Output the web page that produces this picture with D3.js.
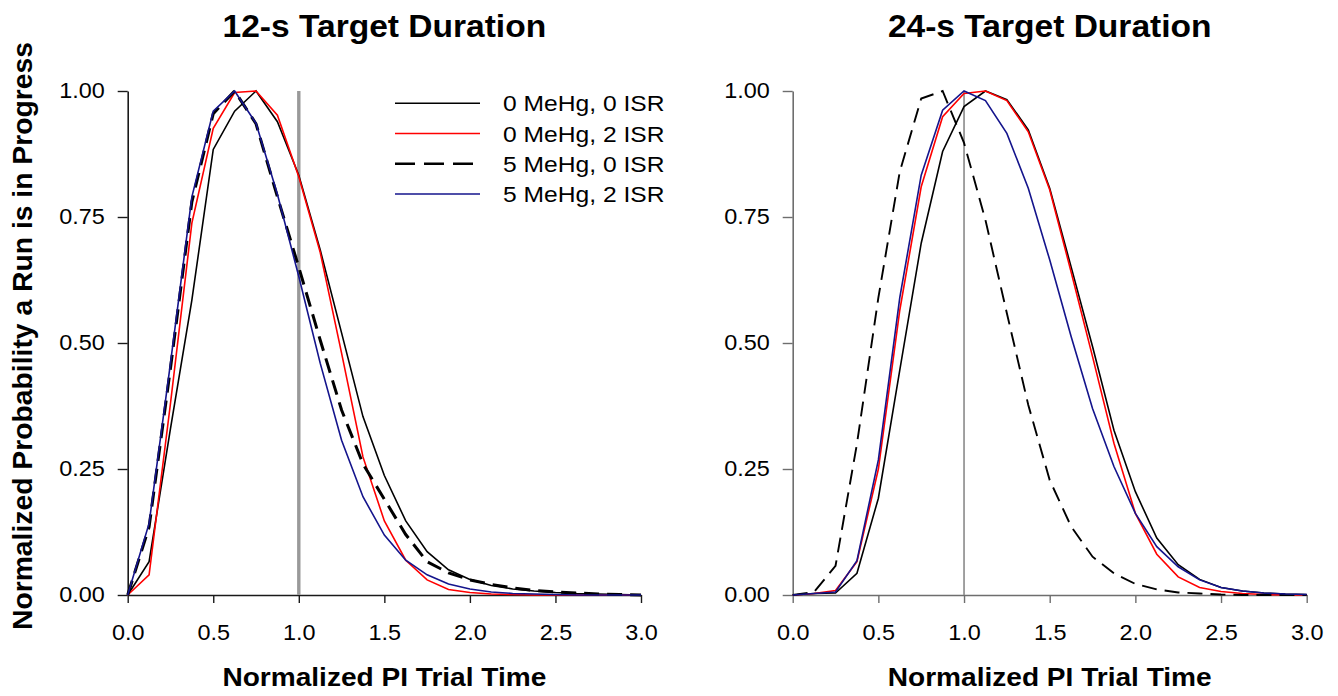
<!DOCTYPE html>
<html>
<head>
<meta charset="utf-8">
<script src="https://cdn.jsdelivr.net/npm/d3@7"></script>
<style>
  html, body { margin: 0; padding: 0; background: #fff; }
  svg { display: block; }
  text { font-family: "Liberation Sans", Arial, sans-serif; fill: #000; }
</style>
</head>
<body>
<svg id="chart" width="1338" height="696"></svg>
<script>
// Normalized PI trial time (bin centres)
const trialTime = [0, 0.125, 0.25, 0.375, 0.5, 0.625, 0.75, 0.875, 1.0, 1.125, 1.25, 1.375,
  1.5, 1.625, 1.75, 1.875, 2.0, 2.125, 2.25, 2.375, 2.5, 2.625, 2.75, 2.875, 3.0];

// Groups
const groupNames = ["0 MeHg, 0 ISR", "0 MeHg, 2 ISR", "5 MeHg, 0 ISR", "5 MeHg, 2 ISR"];

// 12-s target duration
const t12_mehg0_isr0 = [0, 0.066, 0.33, 0.585, 0.884, 0.96, 1.0, 0.939, 0.833, 0.685, 0.52, 0.354,
  0.237, 0.147, 0.086, 0.05, 0.031, 0.019, 0.012, 0.008, 0.005, 0.003, 0.002, 0.001, 0];
const t12_mehg0_isr2 = [0, 0.04, 0.38, 0.738, 0.926, 0.997, 1.0, 0.952, 0.83, 0.68, 0.48, 0.274,
  0.147, 0.069, 0.03, 0.011, 0.005, 0.002, 0.001, 0, 0, 0, 0, 0, 0];
const t12_mehg5_isr0 = [0, 0.135, 0.45, 0.78, 0.955, 1.0, 0.935, 0.79, 0.65, 0.506, 0.367, 0.26,
  0.19, 0.12, 0.066, 0.044, 0.03, 0.021, 0.014, 0.009, 0.006, 0.004, 0.002, 0.001, 0];
const t12_mehg5_isr2 = [0, 0.142, 0.46, 0.79, 0.96, 1.0, 0.936, 0.795, 0.632, 0.46, 0.307, 0.195,
  0.119, 0.069, 0.04, 0.022, 0.012, 0.006, 0.003, 0.002, 0.001, 0, 0, 0, 0];

// 24-s target duration
const t24_mehg0_isr0 = [0, 0.003, 0.004, 0.043, 0.192, 0.446, 0.698, 0.88, 0.969, 1.0, 0.983, 0.923,
  0.807, 0.651, 0.493, 0.327, 0.205, 0.113, 0.06, 0.031, 0.015, 0.008, 0.004, 0.002, 0.001];
const t24_mehg0_isr2 = [0, 0.003, 0.009, 0.066, 0.25, 0.565, 0.81, 0.949, 0.995, 1.0, 0.981, 0.919,
  0.804, 0.641, 0.473, 0.301, 0.162, 0.081, 0.036, 0.015, 0.007, 0.003, 0.001, 0, 0];
const t24_mehg5_isr0 = [0, 0.006, 0.058, 0.30, 0.59, 0.84, 0.985, 1.0, 0.897, 0.744, 0.559, 0.377,
  0.228, 0.136, 0.076, 0.043, 0.022, 0.011, 0.005, 0.003, 0.001, 0, 0, 0, 0];
const t24_mehg5_isr2 = [0, 0.003, 0.006, 0.068, 0.268, 0.59, 0.833, 0.962, 1.0, 0.981, 0.916, 0.807,
  0.665, 0.513, 0.37, 0.255, 0.162, 0.096, 0.056, 0.03, 0.015, 0.008, 0.004, 0.002, 0.001];

// Axis ticks
const xTicks = [0, 0.5, 1.0, 1.5, 2.0, 2.5, 3.0];
const yTicks = [0, 0.25, 0.5, 0.75, 1.0];

const panelTitles = ["12-s Target Duration", "24-s Target Duration"];
const xAxisTitle = "Normalized PI Trial Time";
const yAxisTitle = "Normalized Probability a Run is in Progress";

// ---- drawing ----
const svg = d3.select("#chart");
const STRETCH = 1.09; // horizontal widening of glyphs

const colors = ["#000000", "#ff0000", "#000000", "#14148c"];
const dashed = [false, false, true, false];
// paint order: black, red, dashed, blue
const order = [0, 1, 2, 3];

const panels = [
  { title: panelTitles[0], x0: 127.7, x1: 641,
    series: [t12_mehg0_isr0, t12_mehg0_isr2, t12_mehg5_isr0, t12_mehg5_isr2],
    axisColor: "#1a1a1a", refColor: "#999999", refWidth: 3.4, dashWidth: 3.0, dashArray: "15,8",
    legend: true },
  { title: panelTitles[1], x0: 792.7, x1: 1306.7,
    series: [t24_mehg0_isr0, t24_mehg0_isr2, t24_mehg5_isr0, t24_mehg5_isr2],
    axisColor: "#6e6e6e", refColor: "#8a8a8a", refWidth: 1.6, dashWidth: 1.9, dashArray: "15,8",
    legend: false }
];

const yTop = 91, yBottom = 595;
const y = d3.scaleLinear().domain([0, 1]).range([yBottom, yTop]);

function stretchedText(sel) {
  sel.attr("transform", `scale(${STRETCH},1)`);
}

panels.forEach(p => {
  const x = d3.scaleLinear().domain([0, 3]).range([p.x0, p.x1]);
  const g = svg.append("g");

  // title
  g.append("text")
    .attr("transform", `translate(${(p.x0 + p.x1) / 2},37) scale(1.1,1)`)
    .attr("text-anchor", "middle")
    .style("font-size", "30.5px").style("font-weight", "bold")
    .text(p.title);

  // x axis title
  g.append("text")
    .attr("transform", `translate(${(p.x0 + p.x1) / 2},686) scale(1.08,1)`)
    .attr("text-anchor", "middle")
    .style("font-size", "26px").style("font-weight", "bold")
    .text(xAxisTitle);

  // axes
  const xAxis = d3.axisBottom(x).tickValues(xTicks).tickFormat(d3.format(".1f"))
    .tickSizeInner(8).tickSizeOuter(0).tickPadding(22);
  const yAxis = d3.axisLeft(y).tickValues(yTicks).tickFormat(d3.format(".2f"))
    .tickSizeInner(10).tickSizeOuter(0).tickPadding(13);

  const gx = g.append("g").attr("transform", `translate(0,${yBottom})`).call(xAxis);
  const gy = g.append("g").attr("transform", `translate(${p.x0},0)`).call(yAxis);

  [gx, gy].forEach(ax => {
    ax.select(".domain").attr("stroke", p.axisColor).attr("stroke-width", 1.6);
    ax.selectAll(".tick line").attr("stroke", p.axisColor).attr("stroke-width", 1.4);
    ax.selectAll(".tick text")
      .style("font-family", '"Liberation Sans", Arial, sans-serif')
      .style("font-size", "21.5px").attr("fill", "#000");
  });
  gx.selectAll(".tick text").attr("dy", "0.71em");
  gy.selectAll(".tick text").each(function () {
    const t = d3.select(this);
    const xv = +t.attr("x");
    t.attr("x", xv / STRETCH).call(stretchedText);
  });
  gx.selectAll(".tick text").call(stretchedText);

  // reference line at normalized time 1.0
  g.append("line")
    .attr("x1", x(1)).attr("x2", x(1))
    .attr("y1", y(1)).attr("y2", y(0))
    .attr("stroke", p.refColor).attr("stroke-width", p.refWidth);

  // curves
  const line = d3.line().x((d, i) => x(trialTime[i])).y(d => y(d));
  order.forEach(k => {
    g.append("path")
      .datum(p.series[k])
      .attr("d", line)
      .attr("fill", "none")
      .attr("stroke", colors[k])
      .attr("stroke-width", dashed[k] ? p.dashWidth : 1.6)
      .attr("stroke-dasharray", dashed[k] ? p.dashArray : null)
      .attr("stroke-linejoin", "miter");
  });

  // legend
  if (p.legend) {
    const lg = g.append("g");
    const rowY = [103.3, 133.5, 163.7, 194];
    groupNames.forEach((name, k) => {
      lg.append("line")
        .attr("x1", 395).attr("x2", 480)
        .attr("y1", rowY[k]).attr("y2", rowY[k])
        .attr("stroke", colors[k])
        .attr("stroke-width", dashed[k] ? 2.4 : 1.5)
        .attr("stroke-dasharray", dashed[k] ? "20,9" : null);
      lg.append("text")
        .attr("transform", `translate(503,${rowY[k] + 8}) scale(1.12,1)`)
        .style("font-size", "22px")
        .text(name);
    });
  }
});

// shared y axis title
svg.append("text")
  .attr("transform", `translate(32,336) rotate(-90)`)
  .attr("text-anchor", "middle")
  .style("font-size", "28.3px").style("font-weight", "bold")
  .text(yAxisTitle);
</script>
</body>
</html>
